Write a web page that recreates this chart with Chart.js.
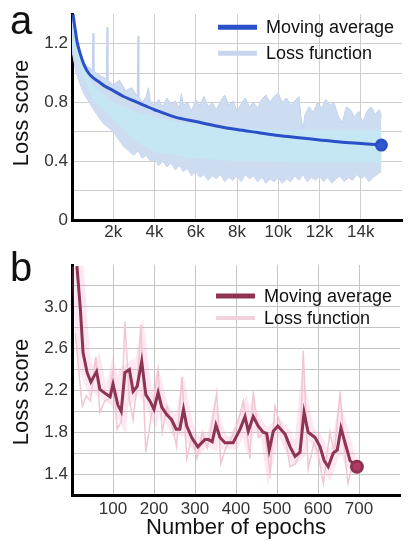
<!DOCTYPE html>
<html>
<head>
<meta charset="utf-8">
<script src="https://cdn.jsdelivr.net/npm/chart.js@4/dist/chart.umd.min.js"></script>
<style>
  html, body { margin: 0; padding: 0; background: #fff; }
  #wrap { position: relative; width: 410px; height: 550px; }
  #topChart { position: absolute; left: 0; top: 0; }
  #bottomChart { position: absolute; left: 0; top: 250px; }
</style>
</head>
<body>
<div id="wrap">
  <canvas id="topChart" width="410" height="250"></canvas>
  <canvas id="bottomChart" width="410" height="300"></canvas>
</div>
<script>
// ---- panel a: iterations vs loss ----
const aAvgX = [50, 150, 250, 400, 600, 800, 1000, 1300, 1600, 2000, 2500, 3000, 3500, 4000, 5000, 6000, 7000, 8000, 9000, 10000, 11000, 12000, 13000, 14000, 15000];
const aAvgY = [1.40, 1.30, 1.21, 1.13, 1.05, 1.00, 0.97, 0.94, 0.91, 0.88, 0.84, 0.81, 0.78, 0.75, 0.70, 0.67, 0.64, 0.615, 0.595, 0.575, 0.56, 0.545, 0.53, 0.52, 0.51];

// upper edge of the loss band
const aHighX = [0, 100, 200, 300, 500, 700, 980, 1020, 1060, 1400, 1660, 1700, 1740, 2000, 2300, 2600, 2900, 3160, 3200, 3240,
    3400, 3600, 3700, 3800, 4000, 4200, 4400, 4600, 4800, 5000, 5200, 5300, 5400, 5600, 5800, 6000, 6200, 6400, 6600, 6800,
    7000, 7200, 7400, 7600, 7800, 8000, 8200, 8400, 8600, 8800, 9000, 9200, 9400, 9600, 9800, 10000, 10200, 10400, 10600, 10800,
    11000, 11100, 11200, 11300, 11500, 11700, 11900, 12100, 12300, 12500, 12700, 12900, 13100, 13300, 13500, 13700, 13900, 14100, 14300, 14500,
    14700, 14900, 15000];
const aHighY = [1.38, 1.30, 1.20, 1.12, 1.08, 1.05, 1.02, 1.27, 1.01, 0.98, 0.96, 1.31, 0.95, 0.92, 0.95, 0.88, 0.90, 0.84, 1.25, 0.84,
    0.80, 0.84, 0.90, 0.81, 0.78, 0.82, 0.77, 0.83, 0.79, 0.81, 0.76, 0.86, 0.78, 0.80, 0.74, 0.82, 0.78, 0.84, 0.77, 0.80,
    0.75, 0.81, 0.85, 0.78, 0.81, 0.74, 0.79, 0.83, 0.77, 0.80, 0.76, 0.82, 0.85, 0.80, 0.84, 0.86, 0.80, 0.83, 0.78, 0.81,
    0.84, 0.70, 0.62, 0.72, 0.77, 0.73, 0.80, 0.76, 0.82, 0.78, 0.80, 0.71, 0.66, 0.77, 0.75, 0.70, 0.74, 0.66, 0.74, 0.77,
    0.72, 0.75, 0.70];

// lower edge of the loss band
const aLowX = [0, 200, 500, 1000, 1500, 2000, 2500, 3000, 3200, 3400, 3600, 3800, 4000, 4200, 4400, 4600, 4800, 5000, 5200, 5400,
    5600, 5800, 6000, 6200, 6400, 6600, 6800, 7000, 7200, 7400, 7600, 7800, 8000, 8200, 8400, 8600, 8800, 9000, 9200, 9400,
    9600, 9800, 10000, 10200, 10400, 10600, 10800, 11000, 11200, 11400, 11600, 11800, 12000, 12200, 12400, 12600, 12800, 13000, 13200, 13400,
    13600, 13800, 14000, 14200, 14400, 14600, 14800, 15000];
const aLowY = [1.15, 1.00, 0.88, 0.76, 0.66, 0.60, 0.50, 0.44, 0.47, 0.42, 0.44, 0.40, 0.41, 0.37, 0.40, 0.36, 0.39, 0.34, 0.37, 0.33,
    0.35, 0.30, 0.33, 0.29, 0.31, 0.27, 0.30, 0.28, 0.31, 0.26, 0.29, 0.27, 0.30, 0.26, 0.31, 0.28, 0.30, 0.26, 0.29, 0.25,
    0.28, 0.26, 0.29, 0.25, 0.28, 0.26, 0.30, 0.27, 0.31, 0.26, 0.29, 0.27, 0.30, 0.26, 0.29, 0.25, 0.28, 0.30, 0.26, 0.29,
    0.27, 0.31, 0.28, 0.30, 0.26, 0.29, 0.31, 0.33];

// dense centre of the loss band
const aCoreX = [0, 1000, 2000, 3000, 4000, 5000, 6000, 7000, 8000, 9000, 10000, 11000, 12000, 13000, 14000, 15000];
const aCoreHigh = [1.25, 0.92, 0.80, 0.74, 0.70, 0.67, 0.65, 0.63, 0.62, 0.62, 0.61, 0.61, 0.61, 0.61, 0.61, 0.61];
const aCoreLow = [1.18, 0.82, 0.68, 0.54, 0.46, 0.44, 0.42, 0.41, 0.40, 0.40, 0.40, 0.39, 0.39, 0.39, 0.39, 0.39];

// ---- panel b: epochs vs loss ----
const bAvgX = [12, 20, 27, 37, 46, 60, 68, 85, 93, 100, 112, 120, 129, 140, 149, 159, 170, 180, 190, 200, 210, 219, 231, 243, 254, 263, 272, 280, 292, 307, 324, 333, 342, 351, 361, 373, 393, 410, 422, 430, 442, 454, 466, 475, 481, 491, 502, 520, 532, 544, 556, 566, 576, 593, 605, 615, 625, 637, 647, 656, 666, 678, 695];
const bAvgY = [3.39, 3.00, 2.56, 2.37, 2.28, 2.38, 2.21, 2.16, 2.14, 2.26, 2.06, 2.00, 2.37, 2.40, 2.19, 2.24, 2.48, 2.16, 2.10, 2.02, 2.18, 2.04, 1.97, 1.92, 1.83, 1.83, 2.02, 1.86, 1.75, 1.66, 1.73, 1.73, 1.71, 1.87, 1.75, 1.70, 1.70, 1.83, 1.95, 1.81, 1.95, 1.86, 1.80, 1.79, 1.63, 1.81, 1.86, 1.78, 1.66, 1.57, 1.61, 1.99, 1.80, 1.75, 1.66, 1.53, 1.47, 1.60, 1.63, 1.84, 1.70, 1.53, 1.47];

const bLossX = [8, 15, 25, 35, 45, 58, 68, 80, 90, 100, 110, 120, 129, 140, 149, 160, 168, 180, 195, 210, 220, 232, 245, 255, 268, 280, 292, 305, 318, 330, 342, 353, 363, 375, 390, 405, 418, 434, 442, 455, 470, 483, 495, 510, 520, 532, 545, 556, 564, 576, 590, 600, 613, 629, 640, 654, 665, 673, 685, 695];
const bLossY = [2.75, 2.45, 2.05, 2.15, 2.10, 2.52, 1.99, 2.10, 2.12, 2.42, 1.83, 1.90, 2.86, 2.10, 1.92, 2.30, 2.83, 1.61, 2.00, 2.40, 1.80, 2.05, 1.85, 1.66, 2.33, 1.55, 1.75, 1.55, 1.80, 1.65, 1.90, 2.18, 1.50, 1.65, 1.75, 1.90, 2.10, 1.55, 2.19, 1.75, 1.80, 1.41, 2.05, 1.85, 1.75, 1.47, 1.50, 1.60, 2.58, 1.45, 1.70, 1.60, 1.31, 1.80, 1.60, 2.19, 1.60, 1.31, 1.50, 1.45];

const legendLabels = ['Moving average', 'Loss function'];

const FONT = '"Liberation Sans", Arial, sans-serif';

function pts(xs, ys) {
    return xs.map((x, i) => ({ x: x, y: ys[i] }));
}

// panel letter, legend and y title drawn on top of the chart
const panelDecor = {
    id: 'panelDecor',
    afterDraw(chart, args, opts) {
        const ctx = chart.ctx;
        const area = chart.chartArea;
        ctx.save();
        ctx.fillStyle = '#111';
        ctx.font = '40px ' + FONT;
        ctx.textBaseline = 'alphabetic';
        ctx.textAlign = 'left';
        ctx.fillText(opts.letter, 10, opts.letterY);

        // legend
        const x0 = area.right - 184;
        opts.items.forEach((it, i) => {
            const y = area.top + opts.legendTop + i * opts.legendGap;
            ctx.strokeStyle = it.color;
            ctx.lineWidth = it.width;
            ctx.lineCap = 'butt';
            ctx.beginPath();
            ctx.moveTo(x0, y);
            ctx.lineTo(x0 + 39, y);
            ctx.stroke();
            ctx.fillStyle = '#111';
            ctx.font = '18px ' + FONT;
            ctx.textBaseline = 'middle';
            ctx.fillText(it.label, x0 + 48, y + 1);
        });

        // y axis title
        ctx.translate(22, opts.yTitleY);
        ctx.rotate(-Math.PI / 2);
        ctx.textAlign = 'center';
        ctx.textBaseline = 'middle';
        ctx.font = '22px ' + FONT;
        ctx.fillStyle = '#111';
        ctx.fillText('Loss score', 0, 0);
        ctx.restore();
    }
};

const tickFont = { family: FONT, size: 17 };

// ---------- top chart ----------
new Chart(document.getElementById('topChart'), {
    type: 'line',
    data: {
        datasets: [
            {
                label: legendLabels[0],
                data: pts(aAvgX, aAvgY),
                borderColor: '#2a50c8',
                backgroundColor: '#3058d0',
                borderWidth: 3,
                tension: 0.3,
                pointRadius: ctx => ctx.dataIndex === aAvgX.length - 1 ? 5 : 0,
                fill: false,
                order: 0
            },
            {
                label: 'core high',
                data: pts(aCoreX, aCoreHigh),
                borderWidth: 0,
                pointRadius: 0,
                backgroundColor: '#c4e7f3',
                fill: '+1',
                order: 1
            },
            {
                label: 'core low',
                data: pts(aCoreX, aCoreLow),
                borderWidth: 0,
                pointRadius: 0,
                fill: false,
                order: 1
            },
            {
                label: legendLabels[1],
                data: pts(aHighX, aHighY),
                borderColor: '#c3d1ec',
                borderWidth: 1,
                pointRadius: 0,
                backgroundColor: '#cddcf1',
                fill: '+1',
                order: 2
            },
            {
                label: 'low',
                data: pts(aLowX, aLowY),
                borderColor: '#c3d1ec',
                borderWidth: 1,
                pointRadius: 0,
                fill: false,
                order: 2
            }
        ]
    },
    options: {
        responsive: false,
        animation: false,
        layout: { padding: { top: 14, right: 8, left: 0, bottom: 0 } },
        plugins: {
            legend: { display: false },
            tooltip: { enabled: false },
            panelDecor: {
                letter: 'a',
                letterY: 34,
                legendTop: 13,
                legendGap: 26,
                yTitleY: 113,
                items: [
                    { label: legendLabels[0], color: '#2a50c8', width: 5 },
                    { label: legendLabels[1], color: '#c8d5ee', width: 5 }
                ]
            }
        },
        scales: {
            x: {
                type: 'linear',
                min: 0,
                max: 16000,
                afterFit: s => { s.height = 30; },
                ticks: {
                    stepSize: 2000,
                    autoSkip: false,
                    padding: 2,
                    color: '#333',
                    font: tickFont,
                    maxRotation: 0,
                    callback: v => (v === 0 || v === 16000) ? '' : (v / 1000) + 'k'
                },
                grid: { color: ctx => ctx.tick && ctx.tick.value === 16000 ? 'rgba(0,0,0,0)' : '#cfcfcf', drawTicks: false },
                border: { color: '#000', width: 3 }
            },
            y: {
                min: 0,
                max: 1.4,
                ticks: {
                    stepSize: 0.2,
                    maxTicksLimit: 20,
                    autoSkip: false,
                    padding: 4,
                    color: '#333',
                    font: tickFont,
                    callback: v => {
                        const k = Math.round(v * 10);
                        if (k % 4 !== 0 || k >= 14) return '';
                        return k === 0 ? '0' : (k / 10).toFixed(1);
                    }
                },
                afterFit: s => { s.width = 72; },
                grid: { color: ctx => ctx.tick && ctx.tick.value > 1.39 ? 'rgba(0,0,0,0)' : '#cfcfcf', drawTicks: false },
                border: { color: '#000', width: 3 }
            }
        }
    },
    plugins: [panelDecor]
});

// ---------- bottom chart ----------
new Chart(document.getElementById('bottomChart'), {
    type: 'line',
    data: {
        datasets: [
            {
                label: legendLabels[0],
                data: pts(bAvgX, bAvgY),
                borderColor: '#8c3452',
                backgroundColor: '#b03a68',
                borderWidth: 3,
                tension: 0,
                pointRadius: ctx => ctx.dataIndex === bAvgX.length - 1 ? 5.5 : 0,
                fill: false,
                order: 0
            },
            {
                label: 'halo',
                data: pts(bAvgX, bAvgY),
                borderColor: 'rgba(255,140,200,0.22)',
                borderWidth: 13,
                pointRadius: 0,
                fill: false,
                order: 2
            },
            {
                label: legendLabels[1],
                data: pts(bLossX, bLossY),
                borderColor: '#efc6d2',
                borderWidth: 1.5,
                pointRadius: 0,
                fill: false,
                order: 1
            }
        ]
    },
    options: {
        responsive: false,
        animation: false,
        layout: { padding: { top: 15, right: 10, left: 0, bottom: 0 } },
        plugins: {
            legend: { display: false },
            tooltip: { enabled: false },
            panelDecor: {
                letter: 'b',
                letterY: 31,
                legendTop: 31,
                legendGap: 22,
                yTitleY: 142,
                items: [
                    { label: legendLabels[0], color: '#8c3452', width: 5 },
                    { label: legendLabels[1], color: '#f0d2da', width: 4 }
                ]
            }
        },
        scales: {
            x: {
                type: 'linear',
                min: 0,
                max: 800,
                afterFit: s => { s.height = 55; },
                title: {
                    display: true,
                    text: 'Number of epochs',
                    color: '#111',
                    font: { family: FONT, size: 22 },
                    padding: { top: 0, bottom: 9 }
                },
                ticks: {
                    stepSize: 100,
                    autoSkip: false,
                    padding: 4,
                    color: '#333',
                    font: tickFont,
                    maxRotation: 0,
                    callback: v => (v === 0 || v === 800) ? '' : String(v)
                },
                grid: { color: ctx => ctx.tick && ctx.tick.value === 800 ? 'rgba(0,0,0,0)' : '#c4c4c4', drawTicks: false },
                border: { color: '#000', width: 3 }
            },
            y: {
                min: 1.2,
                max: 3.4,
                ticks: {
                    stepSize: 0.2,
                    maxTicksLimit: 20,
                    autoSkip: false,
                    padding: 4,
                    color: '#333',
                    font: tickFont,
                    callback: v => {
                        const k = Math.round(v * 10);
                        if (k < 14 || k > 30 || (k - 14) % 4 !== 0) return '';
                        return (k / 10).toFixed(1);
                    }
                },
                afterFit: s => { s.width = 72; },
                grid: { color: ctx => ctx.tick && ctx.tick.value > 3.39 ? 'rgba(0,0,0,0)' : '#c4c4c4', drawTicks: false },
                border: { color: '#000', width: 3 }
            }
        }
    },
    plugins: [panelDecor]
});
</script>
</body>
</html>
